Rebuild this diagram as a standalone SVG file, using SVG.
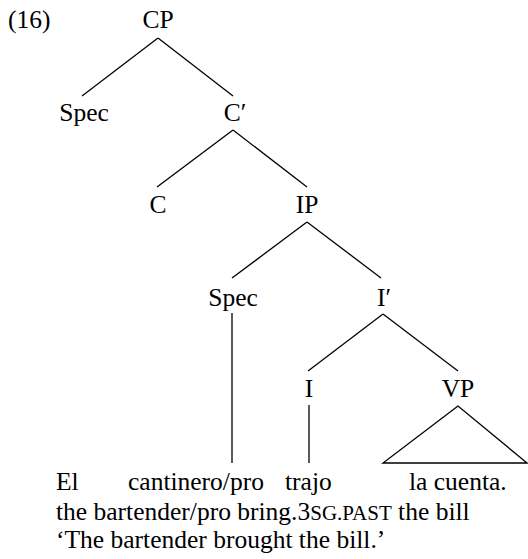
<svg xmlns="http://www.w3.org/2000/svg" width="528" height="559" viewBox="0 0 528 559">
<style>
text{font-family:"Liberation Serif","Times New Roman",serif;font-size:25.5px;fill:#000}
.n{text-anchor:middle}
.e{stroke:#000;stroke-width:1.3;fill:none}
</style>
<rect width="528" height="559" fill="#fff"/>
<text x="8" y="28">(16)</text>
<g id="connectors">
<line class="e" x1="158" y1="38" x2="82" y2="96"/>
<line class="e" x1="158" y1="38" x2="233" y2="96"/>
<line class="e" x1="233" y1="130" x2="157" y2="187"/>
<line class="e" x1="233" y1="130" x2="307" y2="187"/>
<line class="e" x1="307" y1="222" x2="232" y2="278"/>
<line class="e" x1="307" y1="222" x2="381" y2="278"/>
<line class="e" x1="232" y1="313" x2="232" y2="463"/>
<line class="e" x1="383" y1="314" x2="308" y2="371"/>
<line class="e" x1="383" y1="314" x2="458" y2="371"/>
<line class="e" x1="309" y1="405" x2="309" y2="463"/>
<polygon class="e" points="458,406 383,463 527,463"/>
</g>
<g id="CP"><text class="n" x="158" y="28">CP</text></g>
<g id="Spec1"><text class="n" x="84" y="121">Spec</text></g>
<g id="Cbar"><text class="n" x="235" y="121">C′</text></g>
<g id="C"><text class="n" x="158" y="213">C</text></g>
<g id="IP"><text class="n" x="307" y="213">IP</text></g>
<g id="Spec2"><text class="n" x="233" y="306">Spec</text></g>
<g id="Ibar"><text class="n" x="384" y="306">I′</text></g>
<g id="I"><text class="n" x="309" y="397">I</text></g>
<g id="VP"><text class="n" x="458" y="397">VP</text></g>
<g id="words">
<text x="56" y="490">El</text>
<text x="128" y="490">cantinero/pro</text>
<text x="285" y="490">trajo</text>
<text x="409" y="490">la cuenta.</text>
<text x="56" y="520">the bartender/pro bring.3<tspan font-size="21">SG.PAST</tspan> the bill</text>
<text x="56" y="548">‘The bartender brought the bill.’</text>
</g>
</svg>
